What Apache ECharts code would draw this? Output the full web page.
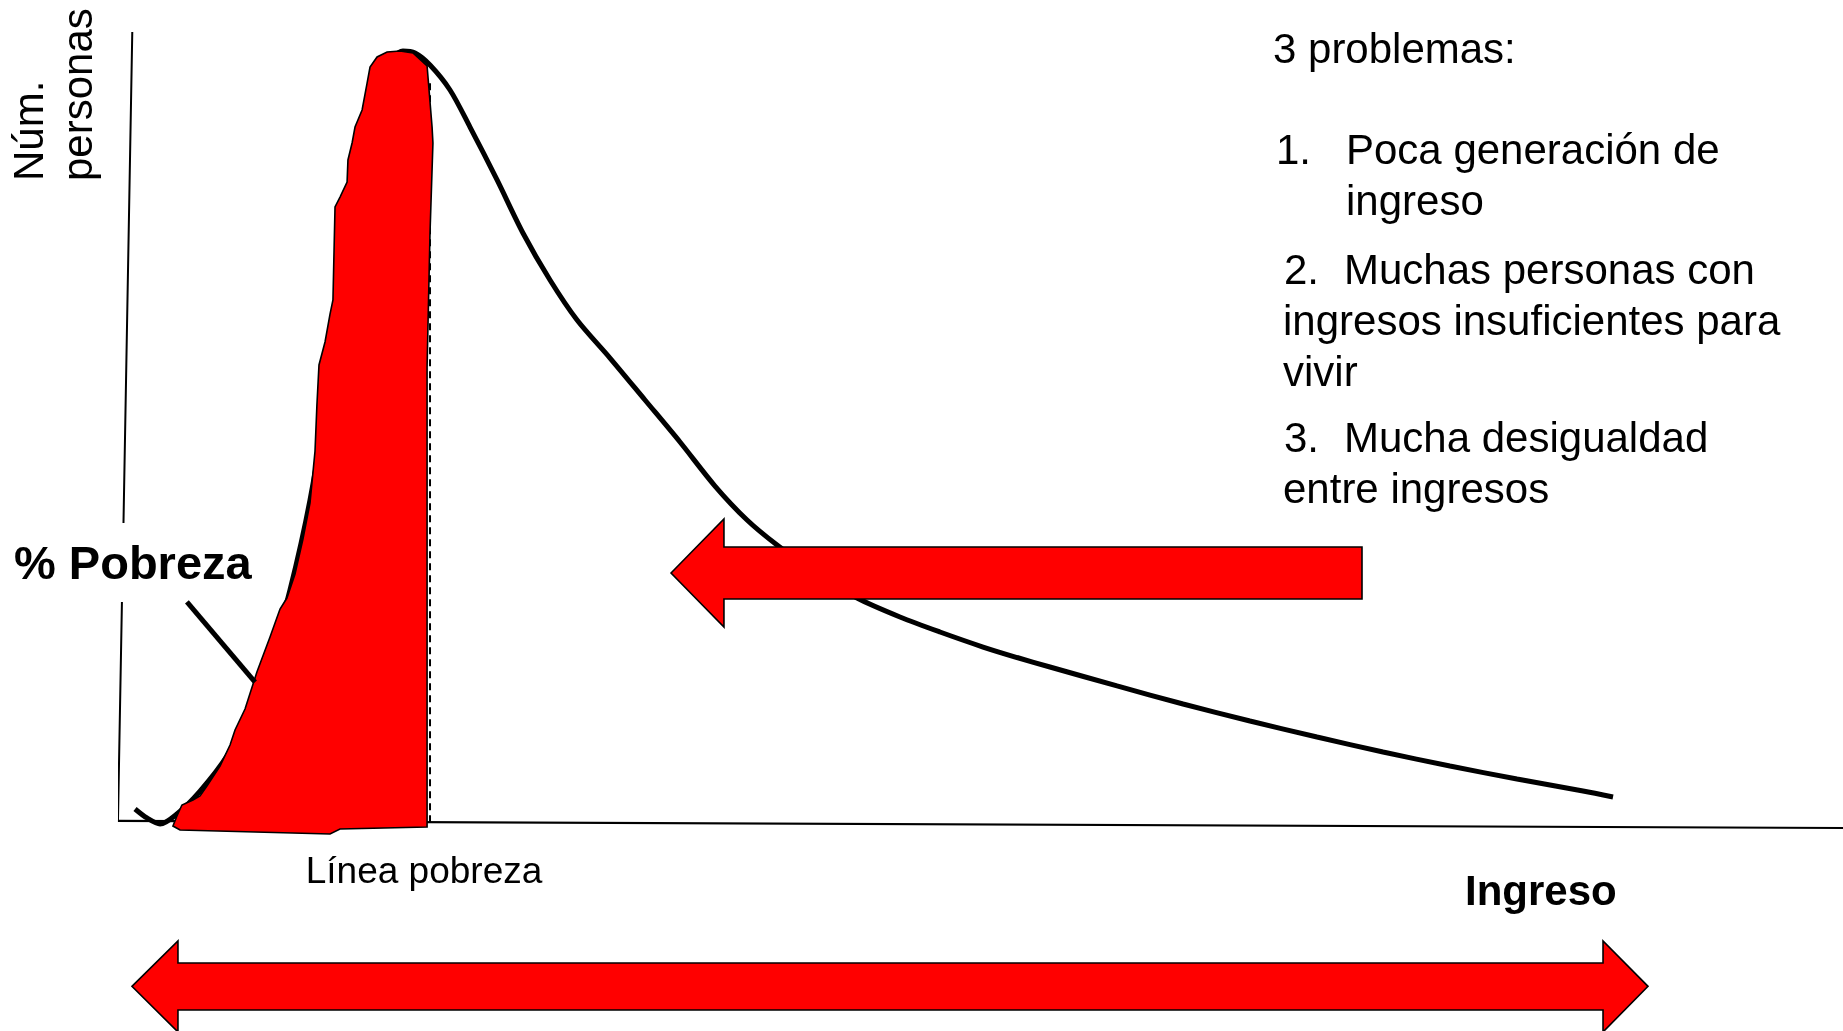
<!DOCTYPE html>
<html>
<head>
<meta charset="utf-8">
<script src="https://cdn.jsdelivr.net/npm/echarts@6/dist/echarts.min.js"></script>
<style>
html,body{margin:0;padding:0;background:#fff;}
#chart{width:1843px;height:1031px;}
</style>
</head>
<body>
<div id="chart"></div>
<script>
// ---- Data (income units on x, number of people on y, both 0..100) ----
var incomeCurve = [
  [0.93,1.65],[1.62,0.51],[2.38,-0.25],[3.36,1.01],[4.70,3.92],[6.26,8.35],[7.60,13.92],
  [8.76,20.51],[9.92,29.37],[11.08,40.76],[12.24,55.95],[13.40,74.94],[14.56,88.86],
  [15.43,95.19],[16.47,97.59],[17.17,97.34],[18.04,95.82],[19.20,92.66],[20.36,87.97],
  [21.93,81.27],[23.43,74.56],[25.00,68.61],[26.57,63.54],[28.48,58.73],[30.51,53.42],
  [32.54,48.10],[34.57,42.53],[36.43,38.23],[38.17,35.06],[40.49,31.39],[42.81,28.35],
  [45.30,25.95],[47.62,24.05],[50.12,22.15],[52.09,20.82],[54.00,19.62],[57.89,17.22],
  [61.72,14.94],[65.60,12.78],[69.49,10.76],[73.32,8.86],[77.20,7.09],[81.09,5.44],
  [84.92,3.92],[86.66,3.16]
];
var povertyArea = [
  [3.13,-0.51],[3.36,0.76],[3.65,2.15],[4.29,2.78],[4.70,3.29],[5.10,4.56],[5.86,7.09],
  [6.44,9.75],[6.73,11.65],[7.31,14.30],[8.00,18.99],[8.76,23.42],[9.34,26.96],[9.74,28.35],
  [10.21,31.39],[10.67,35.82],[11.08,40.38],[11.37,46.96],[11.48,52.78],[11.60,57.85],
  [11.95,60.76],[12.24,64.30],[12.41,66.08],[12.53,77.85],[12.82,79.11],[13.23,81.01],
  [13.28,83.80],[13.52,85.95],[13.69,87.97],[14.10,90.13],[14.39,93.54],[14.56,95.57],
  [14.97,96.84],[15.55,97.47],[16.30,97.59],[17.05,97.34],[17.87,95.70],[18.16,87.97],
  [18.21,85.95],[18.04,74.56],[17.87,57.59],[17.87,-0.63],[12.82,-0.89],[12.24,-1.52],
  [3.54,-1.01]
];
var povertyLine = [[18.04,93.5],[18.04,-0.1]];
var yAxisLine = [[0.77,100],[0.26,37.85],'-',[0.17,27.85],[-0.06,0.13]];
var xAxisLine = [[-0.06,0.13],[100,-0.76]];
var pointerLine = [[3.94,27.85],[7.89,17.72]];
var leftArrow = [[32.02,31.52],[35.09,38.35],[35.09,34.81],[72.10,34.81],[72.10,28.23],[35.09,28.23],[35.09,24.68]];
var doubleArrow = [[0.75,-20.8],[3.42,-15.06],[3.42,-17.85],[86.08,-17.85],[86.08,-15.06],[88.69,-20.8],
  [86.08,-26.58],[86.08,-23.80],[3.42,-23.80],[3.42,-26.58]];
var arrowShapes = [leftArrow, doubleArrow];

var yTitleLines = ['Núm.', 'personas'];
var listLines = [
  {t:'3 problemas:', x:1273, b:66},
  {t:'1.', x:1276, b:167}, {t:'Poca generación de', x:1346, b:167}, {t:'ingreso', x:1346, b:218},
  {t:'2.', x:1284, b:287}, {t:'Muchas personas con', x:1344, b:287},
  {t:'ingresos insuficientes para', x:1283, b:338}, {t:'vivir', x:1283, b:389},
  {t:'3.', x:1284, b:455}, {t:'Mucha desigualdad', x:1344, b:455}, {t:'entre ingresos', x:1283, b:506}
];

var FONT = '"Liberation Sans", Arial, sans-serif';
var MID = 0.3465; // canvas 'middle' to alphabetic baseline, in em

function txt(str, x, baseline, size, weight, align) {
  return {
    type: 'text', x: x, y: baseline - MID * size, z: 100,
    style: {
      text: str, x: 0, y: 0, fill: '#000',
      font: (weight || 'normal') + ' ' + size + 'px ' + FONT,
      align: align || 'left', verticalAlign: 'middle'
    }
  };
}

var graphics = [];
listLines.forEach(function (l) { graphics.push(txt(l.t, l.x, l.b, 42)); });
graphics.push(txt('% Pobreza', 14, 582, 47, 'bold'));
graphics.push(txt('Línea pobreza', 424, 886, 37, 'normal', 'center'));
graphics.push(txt('Ingreso', 1465, 908, 42, 'bold'));
var yTitleBase = [46, 95];
yTitleLines.forEach(function (s, i) {
  graphics.push({
    type: 'text', x: yTitleBase[i] - MID * 42, y: 181, rotation: Math.PI / 2, z: 100,
    style: { text: s, x: 0, y: 0, fill: '#000', font: 'normal 42px ' + FONT, align: 'left', verticalAlign: 'middle' }
  });
});

function polygonSeries(name, shapes, z) {
  return {
    name: name, type: 'custom', coordinateSystem: 'cartesian2d', clip: false, z: z,
    silent: true,
    data: shapes.map(function (s, i) { return [i]; }),
    renderItem: function (params, api) {
      var pts = shapes[params.dataIndex].map(function (p) { return api.coord(p); });
      return {
        type: 'polygon',
        shape: { points: pts },
        style: { fill: '#ff0000', stroke: '#000', lineWidth: 1.6 }
      };
    }
  };
}

function lineSeries(name, data, width, z, type) {
  return {
    name: name, type: 'line', data: data, clip: false, z: z, silent: true,
    showSymbol: false, symbol: 'none', connectNulls: false,
    lineStyle: { color: '#000', width: width, type: type || 'solid' }
  };
}

var chart = echarts.init(document.getElementById('chart'), null, { renderer: 'canvas' });
var curve = lineSeries('Distribución del ingreso', incomeCurve, 5, 3);
curve.smooth = 0.3;
chart.setOption({
  animation: false,
  backgroundColor: '#ffffff',
  grid: { left: 119, top: 32, width: 1724, height: 790 },
  xAxis: { type: 'value', min: 0, max: 100, show: false },
  yAxis: { type: 'value', min: 0, max: 100, show: false },
  series: [
    lineSeries('Eje Y', yAxisLine, 2, 2),
    lineSeries('Eje X', xAxisLine, 2.2, 2),
    lineSeries('Línea pobreza', povertyLine, 2, 2, [7, 5]),
    curve,
    polygonSeries('Pobreza', [povertyArea], 4),
    lineSeries('Señal', pointerLine, 5, 5),
    polygonSeries('Flechas', arrowShapes, 6)
  ],
  graphic: graphics
});
</script>
</body>
</html>
